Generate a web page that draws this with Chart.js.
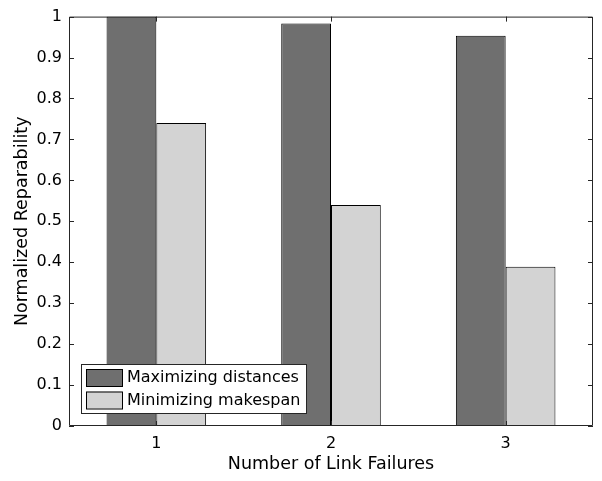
<!DOCTYPE html>
<html>
<head>
<meta charset="utf-8">
<script src="https://cdn.jsdelivr.net/npm/chart.js@4"></script>
<style>
  html, body { margin: 0; padding: 0; background: #fff; }
  #wrap { width: 602px; height: 481px; }
</style>
</head>
<body>
<div id="wrap"><canvas id="chart" width="602" height="481"></canvas></div>
<script>
const failures = ["1", "2", "3"];
const maxDistances = [1.0, 0.983, 0.953];
const minMakespan = [0.74, 0.54, 0.389];
const yTicks = [0, 0.1, 0.2, 0.3, 0.4, 0.5, 0.6, 0.7, 0.8, 0.9, 1];

const FONT = "'DejaVu Sans', sans-serif";
const AXIS = "#262626";

// box + inward ticks, matlab style
const boxTicks = {
  id: "boxTicks",
  afterDatasetsDraw(chart) {
    const { ctx, chartArea: a, scales } = chart;
    ctx.save();
    ctx.strokeStyle = AXIS;
    ctx.lineWidth = 1;
    ctx.beginPath();
    ctx.rect(a.left + 0.5, a.top + 0.5, a.right - a.left - 1, a.bottom - a.top - 1);
    yTicks.forEach(v => {
      const y = Math.round(scales.y.getPixelForValue(v)) + 0.5;
      ctx.moveTo(a.left, y); ctx.lineTo(a.left + 5, y);
      ctx.moveTo(a.right, y); ctx.lineTo(a.right - 5, y);
    });
    failures.forEach((c, i) => {
      const x = Math.round(scales.x.getPixelForValue(i)) + 0.5;
      ctx.moveTo(x, a.bottom); ctx.lineTo(x, a.bottom - 5);
      ctx.moveTo(x, a.top); ctx.lineTo(x, a.top + 5);
    });
    ctx.stroke();
    ctx.restore();
  },
  afterDraw(chart) {
    // legend inside the axes, lower left
    const { ctx, chartArea: a } = chart;
    const bx = a.left + 12, by = a.bottom - 62, bw = 225, bh = 49;
    ctx.save();
    ctx.fillStyle = "#fff";
    ctx.fillRect(bx, by, bw, bh);
    ctx.strokeStyle = AXIS;
    ctx.lineWidth = 1;
    ctx.strokeRect(bx + 0.5, by + 0.5, bw, bh);
    ctx.font = "16px " + FONT;
    ctx.textBaseline = "middle";
    chart.data.datasets.forEach((ds, i) => {
      const ry = by + 5 + i * 22.5;
      ctx.fillStyle = ds.backgroundColor;
      ctx.fillRect(bx + 5, ry, 36, 17);
      ctx.strokeStyle = "#000";
      ctx.strokeRect(bx + 5.5, ry + 0.5, 36, 17);
      ctx.fillStyle = "#000";
      ctx.fillText(ds.label, bx + 46, ry + 9);
    });
    ctx.restore();
  }
};

new Chart(document.getElementById("chart"), {
  type: "bar",
  data: {
    labels: failures,
    datasets: [
      { label: "Maximizing distances", data: maxDistances, backgroundColor: "#6f6f6f",
        borderColor: "#000", borderWidth: 1 },
      { label: "Minimizing makespan", data: minMakespan, backgroundColor: "#d3d3d3",
        borderColor: "#000", borderWidth: 1 }
    ]
  },
  options: {
    responsive: false,
    animation: false,
    layout: { padding: { top: 11, right: 9, left: 0, bottom: 0 } },
    datasets: { bar: { categoryPercentage: 0.57, barPercentage: 1.0 } },
    plugins: { legend: { display: false }, tooltip: { enabled: false } },
    scales: {
      x: {
        grid: { display: false, drawTicks: false },
        border: { display: false },
        ticks: { color: "#000", padding: 8, font: { family: FONT, size: 16 } },
        title: { display: true, text: "Number of Link Failures", color: "#000",
                 font: { family: FONT, size: 17.5 }, padding: { top: 0, bottom: 6.5 } },
        afterFit: s => { s.height = 55; }
      },
      y: {
        min: 0, max: 1,
        grid: { display: false, drawTicks: false },
        border: { display: false },
        afterBuildTicks: s => { s.ticks = yTicks.map(v => ({ value: v })); },
        ticks: { color: "#000", padding: 7, font: { family: FONT, size: 16 },
                 callback: v => String(+v.toFixed(1)) },
        title: { display: true, text: "Normalized Reparability", color: "#000",
                 font: { family: FONT, size: 17.5 }, padding: { top: 11.5, bottom: 0 } },
        afterFit: s => { s.width = 69; }
      }
    }
  },
  plugins: [boxTicks]
});
</script>
</body>
</html>
